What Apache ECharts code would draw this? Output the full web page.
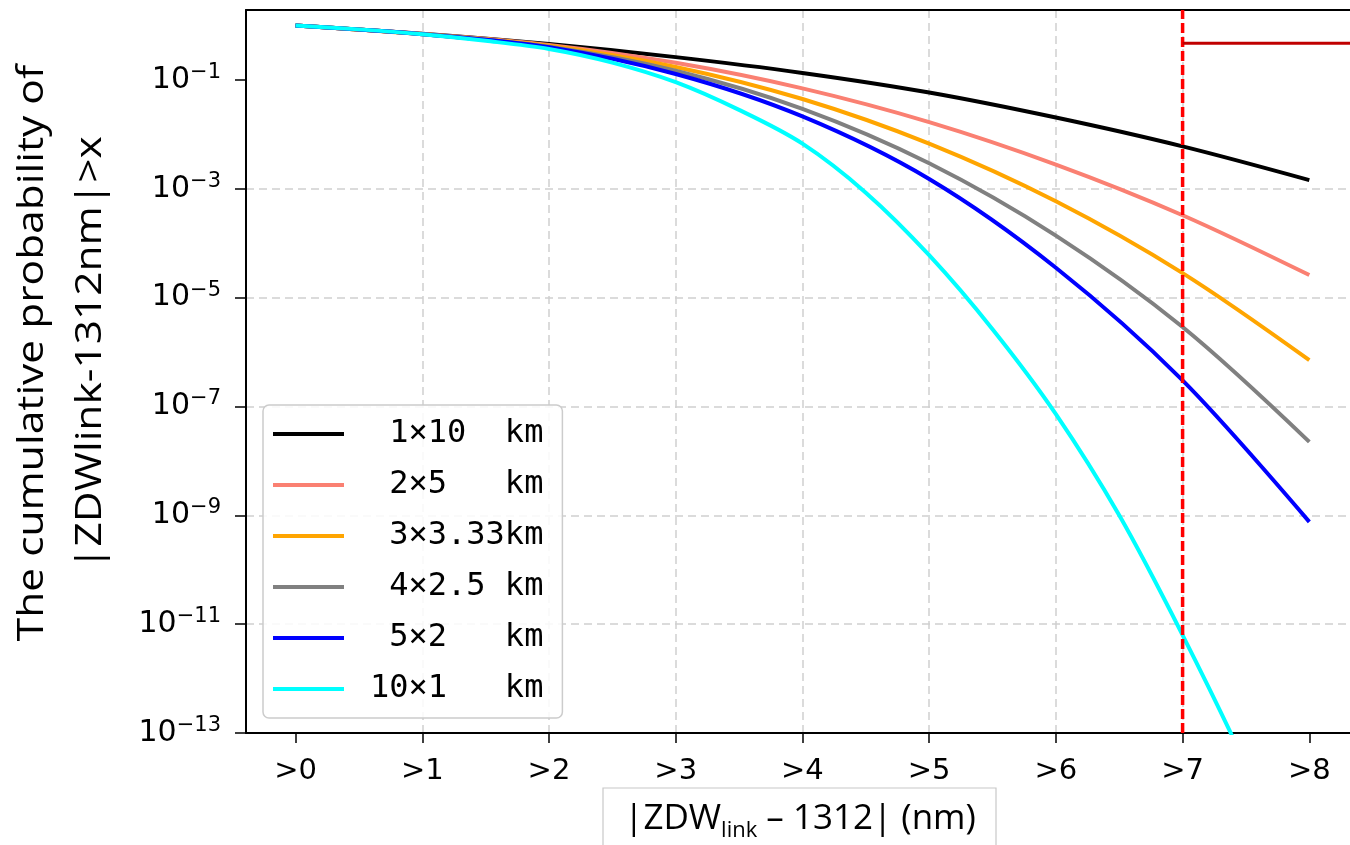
<!DOCTYPE html>
<html>
<head>
<meta charset="utf-8">
<script src="https://cdn.jsdelivr.net/npm/echarts@6/dist/echarts.min.js"></script>
<style>
html,body{margin:0;padding:0;background:#fff;}
#chart{width:1350px;height:845px;}
</style>
</head>
<body>
<div id="chart"></div>
<script>
// ---- data (log10 of cumulative probability) ----
const xTicks = [0, 1, 2, 3, 4, 5, 6, 7, 8];
const yTicks = [-13, -11, -9, -7, -5, -3, -1];
const xs = [0, 1, 2, 3, 4, 5, 6, 7, 8];
const logP_1x10  = [0, -0.150, -0.340, -0.580, -0.870, -1.230, -1.690, -2.220, -2.840];
const logP_2x5   = [0, -0.155, -0.355, -0.685, -1.155, -1.775, -2.555, -3.485, -4.585];
const logP_3x333 = [0, -0.160, -0.370, -0.760, -1.350, -2.170, -3.230, -4.550, -6.150];
const logP_4x25  = [0, -0.160, -0.390, -0.830, -1.530, -2.530, -3.860, -5.540, -7.650];
const logP_5x2   = [0, -0.160, -0.400, -0.890, -1.670, -2.820, -4.450, -6.520, -9.120];
const xsCyan     = [0, 0.5, 1, 1.5, 2, 2.5, 3, 3.5, 4, 4.5, 5, 5.5, 6, 6.5, 7, 7.5, 8];
const logP_10x1  = [0, -0.07, -0.16, -0.28, -0.43, -0.68, -1.04, -1.55, -2.17, -3.07, -4.22, -5.58, -7.14, -9.00, -11.2, -13.6, -16.3];
const seriesNames = [' 1×10  km', ' 2×5   km', ' 3×3.33km', ' 4×2.5 km', ' 5×2   km', '10×1   km'];
const seriesColors = ['#000000', '#fa8072', '#ffa500', '#808080', '#0000ff', '#00ffff'];
const thresholdX = [7, 7];
const thresholdLogP = [-13, 0.286];
const bracketX = [7, 8.321];
const bracketLogP = [-0.326, -0.326];

function pairs(x, y) { return x.map((v, i) => [v, y[i]]); }

const allY = [logP_1x10, logP_2x5, logP_3x333, logP_4x25, logP_5x2, logP_10x1];
const series = allY.map((arr, i) => ({
  name: seriesNames[i], type: 'line', data: pairs(i === 5 ? xsCyan : xs, arr), smooth: 0.33,
  showSymbol: false, symbol: 'none', lineStyle: {color: seriesColors[i], width: 4},
  itemStyle: {color: seriesColors[i]}, z: 3 + i, clip: true
}));
series.push({
  name: 'threshold', type: 'line', data: pairs(thresholdX, thresholdLogP), silent: true, z: 12,
  showSymbol: false, symbol: 'none', lineStyle: {color: '#ff0000', width: 3.5, type: [10, 4]}, clip: false
});
series.push({
  name: 'bracket', type: 'line', data: pairs(bracketX, bracketLogP), silent: true, z: 12,
  showSymbol: false, symbol: 'none', lineStyle: {color: '#c00000', width: 3}, clip: false
});

const chart = echarts.init(document.getElementById('chart'));
chart.setOption({
  animation: false,
  backgroundColor: '#ffffff',
  grid: {left: 246, top: 10, width: 1104, height: 723, show: false},
  legend: {
    data: seriesNames, orient: 'vertical', left: 263, top: 405,
    icon: 'rect', itemWidth: 71, itemHeight: 4, itemGap: 19,
    padding: [13, 19, 13, 10],
    backgroundColor: 'rgba(255,255,255,0.85)', borderColor: '#cccccc', borderWidth: 1.5, borderRadius: 6,
    textStyle: {fontFamily: '"DejaVu Sans Mono"', fontSize: 32, color: '#000', lineHeight: 30, padding: [0, 0, 0, 21]},
    selectedMode: false
  },
  xAxis: [{
    type: 'value', min: -0.391, max: 8.321, splitNumber: 9,
    axisLine: {show: true, onZero: false, lineStyle: {color: '#000', width: 2}},
    axisTick: {show: true, length: 10, inside: false, lineStyle: {color: '#000', width: 1.5}, customValues: xTicks},
    axisLabel: {customValues: xTicks, fontFamily: '"DejaVu Sans"', fontSize: 29, color: '#000', margin: 24,
      formatter: v => (Math.abs(v - Math.round(v)) < 1e-6 ? '>' + Math.round(v) : '')},
    splitLine: {show: true, showMinLine: false, showMaxLine: false, lineStyle: {color: '#d0d0d0', width: 1.5, type: [8, 5]}}
  }, {
    type: 'value', position: 'top', min: -0.391, max: 8.321,
    axisLine: {show: true, onZero: false, lineStyle: {color: '#000', width: 2}},
    axisTick: {show: false}, axisLabel: {show: false}, splitLine: {show: false}
  }],
  yAxis: {
    type: 'value', min: -13, max: 0.286, interval: 2,
    axisLine: {show: true, onZero: false, lineStyle: {color: '#000', width: 2}},
    axisTick: {show: true, length: 11, inside: false, lineStyle: {color: '#000', width: 1.5}, customValues: yTicks},
    axisLabel: {customValues: yTicks, color: '#000', margin: 25,
      formatter: v => (Math.abs(v - Math.round(v)) < 1e-6 ? '{b|10}{e|' + String(Math.round(v)).replace('-', '−') + '}' : ''),
      rich: {
        b: {fontFamily: 'DejaVu Sans', fontSize: 30, lineHeight: 36, color: '#000'},
        e: {fontFamily: 'DejaVu Sans', fontSize: 21, lineHeight: 21, verticalAlign: 'top', color: '#000'}
      }},
    splitLine: {show: true, showMinLine: false, showMaxLine: false, lineStyle: {color: '#d0d0d0', width: 1.5, type: [8, 5]}}
  },
  series: series,
  graphic: [
    {type: 'text', x: 62, y: 353, rotation: Math.PI / 2, scaleX: 1.18, z: 20,
      style: {text: 'The cumulative probability of\n|ZDWlink-1312nm|>x', fontFamily: '"Open Sans"', fontSize: 36,
        lineHeight: 58, fill: '#000', align: 'center', verticalAlign: 'middle'}},
    {type: 'rect', z: 20, shape: {x: 603, y: 788, width: 393, height: 80},
      style: {fill: 'rgba(0,0,0,0)', stroke: '#c8c8c8', lineWidth: 1.2}},
    {type: 'text', x: 800, y: 819, z: 21,
      style: {text: '{a||ZDW}{s|link}{a| – 1312| (nm)}', align: 'center', verticalAlign: 'middle', fill: '#000',
        rich: {a: {fontFamily: '"Open Sans"', fontSize: 35, lineHeight: 46, fill: '#000'},
               s: {fontFamily: '"Open Sans"', fontSize: 22, lineHeight: 23, verticalAlign: 'bottom', fill: '#000'}}}}
  ]
});
</script>
</body>
</html>
